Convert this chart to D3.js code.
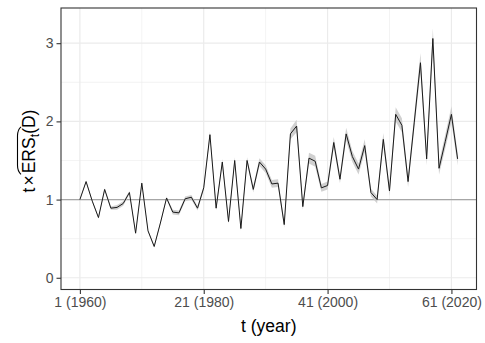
<!DOCTYPE html>
<html>
<head>
<meta charset="utf-8">
<script src="https://cdn.jsdelivr.net/npm/d3@7"></script>
<style>
  body { margin: 0; background: #fff; }
  text { font-family: "Liberation Sans", Arial, sans-serif; }
</style>
</head>
<body>
<div id="chart"></div>
<script>
// t = 1..62 (1960..2021), estimated t x ERS_t(D)
var tValues = d3.range(1, 63);
var ersValues = [
  1.00, 1.23, 0.98, 0.77, 1.13, 0.89, 0.90, 0.95, 1.09, 0.57,
  1.21, 0.60, 0.40, 0.70, 1.02, 0.84, 0.83, 1.01, 1.03, 0.89,
  1.15, 1.83, 0.89, 1.48, 0.72, 1.50, 0.63, 1.50, 1.13, 1.48,
  1.39, 1.20, 1.21, 0.68, 1.84, 1.94, 0.91, 1.53, 1.49, 1.15,
  1.18, 1.73, 1.26, 1.84, 1.55, 1.39, 1.69, 1.09, 1.00, 1.77,
  1.11, 2.09, 1.95, 1.23, 1.99, 2.75, 1.52, 3.06, 1.40, 1.74,
  2.09, 1.52
];
// half width of the grey band
var bandHalf = [
  0.01, 0.015, 0.015, 0.015, 0.015, 0.02, 0.03, 0.03, 0.02, 0.015,
  0.015, 0.015, 0.015, 0.015, 0.02, 0.03, 0.03, 0.03, 0.03, 0.03,
  0.03, 0.04, 0.03, 0.04, 0.03, 0.04, 0.03, 0.04, 0.04, 0.05,
  0.05, 0.05, 0.05, 0.04, 0.07, 0.08, 0.04, 0.07, 0.07, 0.05,
  0.05, 0.07, 0.05, 0.08, 0.07, 0.07, 0.08, 0.05, 0.05, 0.08,
  0.06, 0.09, 0.09, 0.07, 0.09, 0.12, 0.08, 0.13, 0.08, 0.09,
  0.10, 0.08
];
var xTicks = [1, 21, 41, 61];
var xTickLabels = ["1 (1960)", "21 (1980)", "41 (2000)", "61 (2020)"];
var xMinor = [11, 31, 51];
var yTicks = [0, 1, 2, 3];
var yMinor = [0.5, 1.5, 2.5];

var svgWidth = 485, svgHeight = 343;
var panel = { left: 61, right: 476.5, top: 8, bottom: 289.5 };

var data = tValues.map(function(t, i) {
  return { t: t, v: ersValues[i], lo: ersValues[i] - bandHalf[i], hi: ersValues[i] + bandHalf[i] };
});

var svg = d3.select("#chart").append("svg")
  .attr("width", svgWidth)
  .attr("height", svgHeight);

var x = d3.scaleLinear().domain([-2.05, 65.05]).range([panel.left, panel.right]);
var y = d3.scaleLinear().domain([-0.15, 3.45]).range([panel.bottom, panel.top]);

// grid
var grid = svg.append("g");
grid.selectAll("line.xmin").data(xMinor).enter().append("line")
  .attr("x1", d => x(d)).attr("x2", d => x(d))
  .attr("y1", panel.top).attr("y2", panel.bottom)
  .attr("stroke", "#ebebeb").attr("stroke-width", 0.6);
grid.selectAll("line.ymin").data(yMinor).enter().append("line")
  .attr("y1", d => y(d)).attr("y2", d => y(d))
  .attr("x1", panel.left).attr("x2", panel.right)
  .attr("stroke", "#ebebeb").attr("stroke-width", 0.6);
grid.selectAll("line.xmaj").data(xTicks).enter().append("line")
  .attr("x1", d => x(d)).attr("x2", d => x(d))
  .attr("y1", panel.top).attr("y2", panel.bottom)
  .attr("stroke", "#ebebeb").attr("stroke-width", 1.2);
grid.selectAll("line.ymaj").data(yTicks).enter().append("line")
  .attr("y1", d => y(d)).attr("y2", d => y(d))
  .attr("x1", panel.left).attr("x2", panel.right)
  .attr("stroke", "#ebebeb").attr("stroke-width", 1.2);

// reference line at 1
svg.append("line")
  .attr("x1", panel.left).attr("x2", panel.right)
  .attr("y1", y(1)).attr("y2", y(1))
  .attr("stroke", "#a6a6a6").attr("stroke-width", 1.3);

// ribbon + line
svg.append("path")
  .datum(data)
  .attr("fill", "#c8c8c8").attr("opacity", 0.85)
  .attr("d", d3.area().x(d => x(d.t)).y0(d => y(d.lo)).y1(d => y(d.hi)));

svg.append("path")
  .datum(data)
  .attr("fill", "none").attr("stroke", "#1a1a1a").attr("stroke-width", 1)
  .attr("d", d3.line().x(d => x(d.t)).y(d => y(d.v)));

// panel border
svg.append("rect")
  .attr("x", panel.left).attr("y", panel.top)
  .attr("width", panel.right - panel.left).attr("height", panel.bottom - panel.top)
  .attr("fill", "none").attr("stroke", "#333").attr("stroke-width", 1.1);

// axes
var bottomAxis = d3.axisBottom(x).tickValues(xTicks)
  .tickFormat((d, i) => xTickLabels[i]).tickSizeInner(4.5).tickSizeOuter(0).tickPadding(3);
var leftAxis = d3.axisLeft(y).tickValues(yTicks)
  .tickFormat(d3.format("d")).tickSizeInner(4.5).tickSizeOuter(0).tickPadding(3);

var xAxis = svg.append("g")
  .attr("transform", `translate(0, ${panel.bottom})`)
  .call(bottomAxis);
var yAxis = svg.append("g")
  .attr("transform", `translate(${panel.left}, 0)`)
  .call(leftAxis);

[xAxis, yAxis].forEach(function(ax) {
  ax.select(".domain").remove();
  ax.selectAll(".tick line").attr("stroke", "#333").attr("stroke-width", 1.1);
  ax.selectAll(".tick text").attr("fill", "#4d4d4d").style("font-size", "14px")
    .style("font-family", "'Liberation Sans', Arial, sans-serif");
});

// x title
svg.append("text")
  .attr("x", (panel.left + panel.right) / 2)
  .attr("y", 332)
  .attr("text-anchor", "middle")
  .style("font-size", "17.5px")
  .attr("fill", "#000")
  .text("t (year)");

// y title: t × widehat(ERS)_t(D)
var yt = svg.append("g").attr("transform", "translate(35, 151) rotate(-90)");
var pieces = [
  { s: "t", size: 17.5, dy: 0, gap: 2 },
  { s: "\u00d7", size: 17.5, dy: 0, gap: 2 },
  { s: "ERS", size: 17.5, dy: 0, gap: 0, hat: true },
  { s: "t", size: 12.5, dy: 4, gap: 0 },
  { s: "(D)", size: 17.5, dy: 0, gap: 0 }
];
var nodes = pieces.map(function(p) {
  var el = yt.append("text").style("font-size", p.size + "px").attr("y", p.dy).text(p.s);
  return { el: el, w: el.node().getComputedTextLength(), p: p };
});
var total = d3.sum(nodes, n => n.w + n.p.gap);
var cx = -total / 2;
var hatStart = 0;
nodes.forEach(function(n) {
  n.el.attr("x", cx);
  if (n.p.hat) hatStart = cx;
  cx += n.w + n.p.gap;
});
// wide hat over ERS (reaches past the subscript)
var h0 = hatStart - 1, h1 = hatStart + nodes[2].w + nodes[3].w + 7;
yt.append("path")
  .attr("d", `M${h0},-14 Q${h0 + 3},-17.5 ${h0 + 9},-17.5 L${h1 - 9},-17.5 Q${h1 - 3},-17.5 ${h1},-14`)
  .attr("fill", "none").attr("stroke", "#000").attr("stroke-width", 1.1);
</script>
</body>
</html>
